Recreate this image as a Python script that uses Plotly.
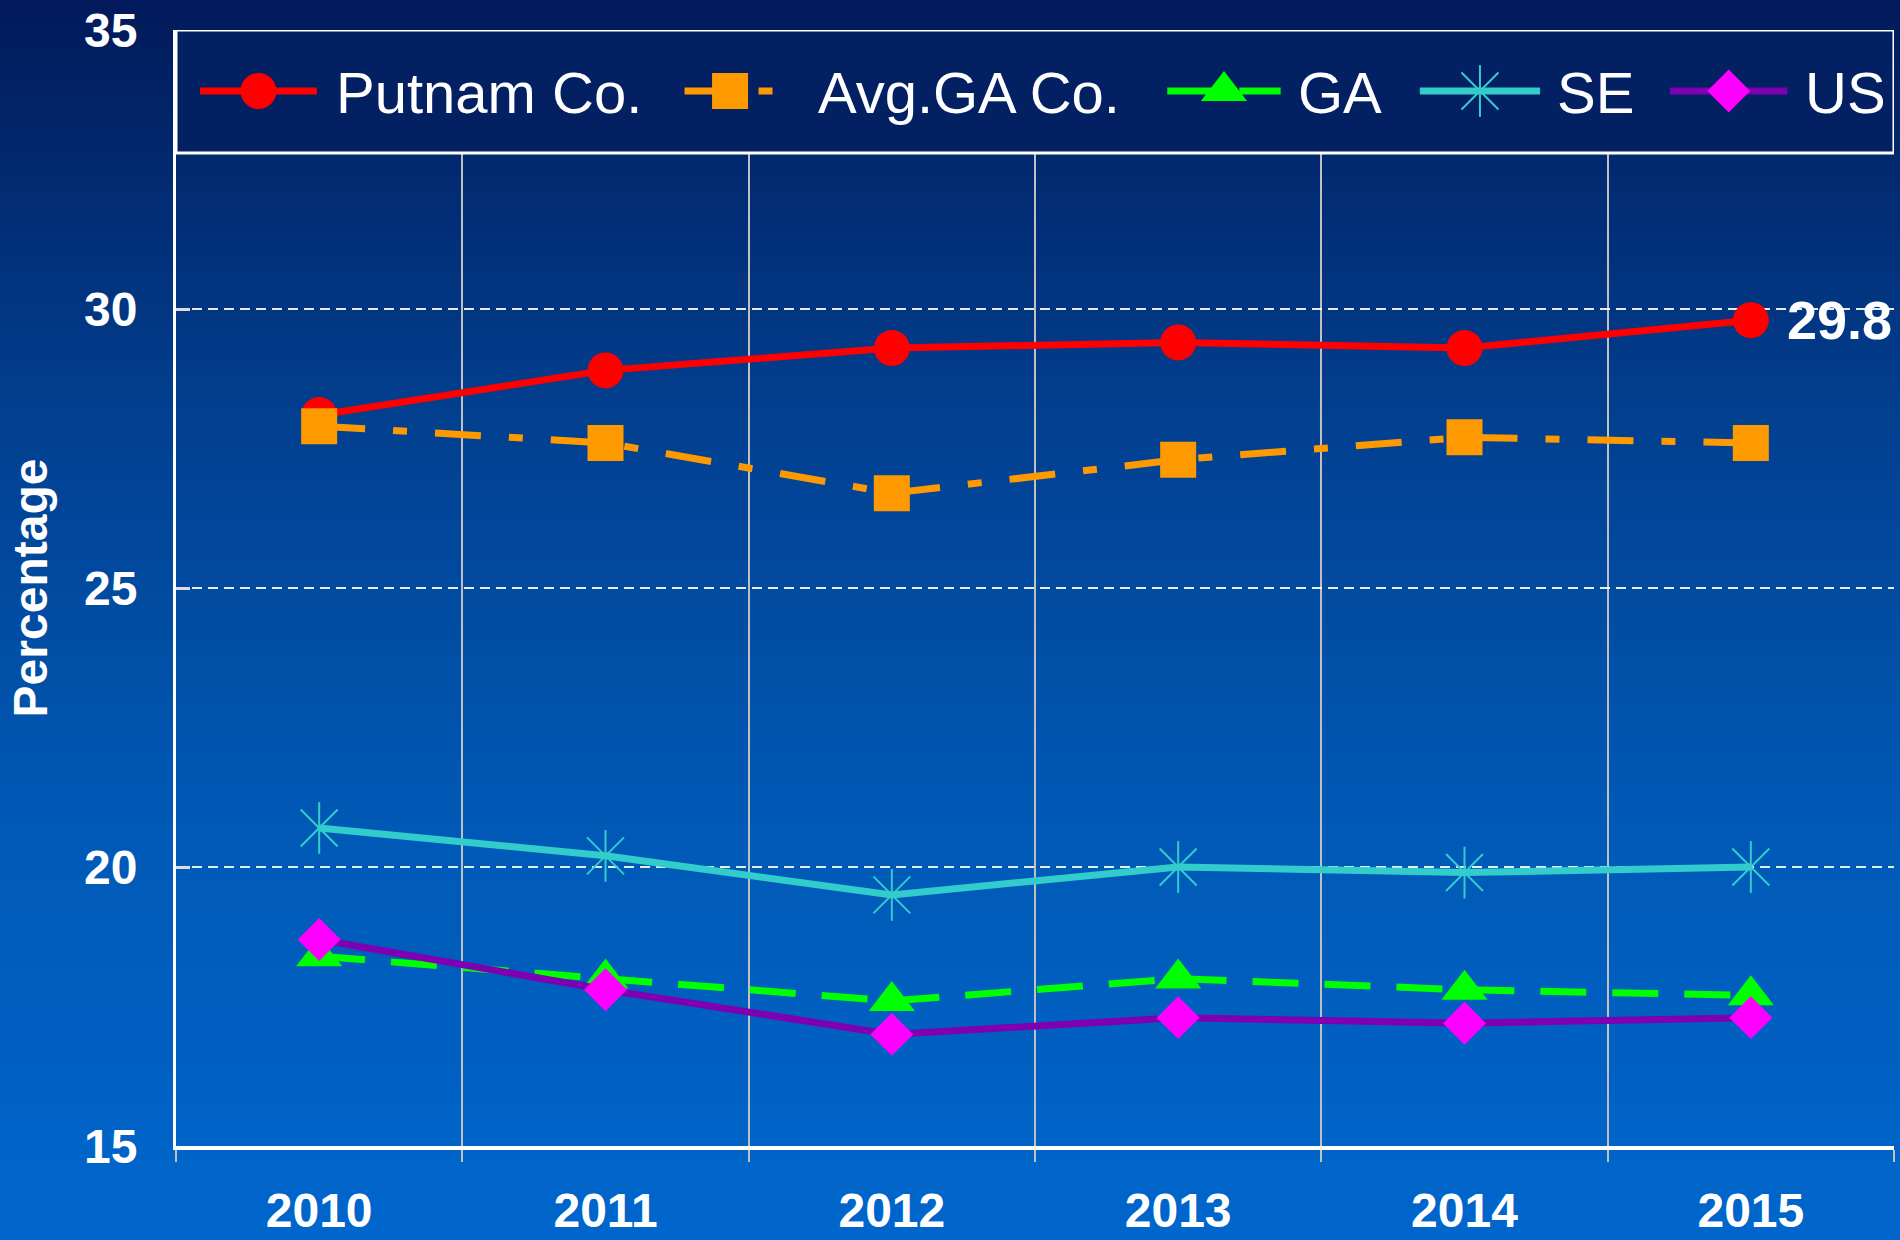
import plotly.graph_objects as go

# ---------------- data ----------------
years = ["2010", "2011", "2012", "2013", "2014", "2015"]
putnam = [28.1, 28.9, 29.3, 29.4, 29.3, 29.8]
avg_ga = [27.9, 27.6, 26.7, 27.3, 27.7, 27.6]
ga = [18.4, 18.0, 17.6, 18.0, 17.8, 17.7]
se = [20.7, 20.2, 19.5, 20.0, 19.9, 20.0]
us = [18.7, 17.8, 17.0, 17.3, 17.2, 17.3]
series_names = ["Putnam Co.", "Avg.GA Co.", "GA", "SE", "US"]
y_ticks = [15, 20, 25, 30, 35]
y_title = "Percentage"

# ---------------- styling ----------------
W, H = 1900, 1240
ML, MR, MT, MB = 176, 6, 30, 94
PW, PH = W - ML - MR, H - MT - MB
BOLD = dict(family="Liberation Sans, Arial, sans-serif", size=48, color="white", weight="bold")
LABEL = dict(BOLD, size=54)
LEGFONT = dict(family="Liberation Sans Narrow, Arial Narrow, Liberation Sans, sans-serif", size=58, color="white")

RED, ORANGE, GREEN, CYAN, PURPLE, MAGENTA = "#ff0000", "#ff9900", "#00ff00", "#33cccc", "#7f00b2", "#ff00ff"

styles = [
    dict(line=dict(color=RED, width=7), marker=dict(symbol="circle", size=36, color=RED)),
    dict(line=dict(color=ORANGE, width=7, dash="46px,28px,14px,28px"),
         marker=dict(symbol="square", size=36, color=ORANGE)),
    dict(line=dict(color=GREEN, width=7, dash="46px,26px"),
         marker=dict(symbol="triangle-up", size=40, color=GREEN)),
    dict(line=dict(color=CYAN, width=7),
         marker=dict(symbol="x-thin-open", size=37, color=CYAN, line=dict(color=CYAN, width=2))),
    dict(line=dict(color=PURPLE, width=7), marker=dict(symbol="diamond", size=33, color=MAGENTA)),
]
values = [putnam, avg_ga, ga, se, us]
SE_VBAR = dict(symbol="line-ns-open", size=37, color=CYAN, line=dict(color=CYAN, width=2))

fig = go.Figure()

# background gradient (bands in paper coordinates)
stops = [(0, (2, 26, 90)), (400, (2, 62, 142)), (800, (0, 88, 180)), (1240, (0, 102, 204))]


def grad(p):
    for (p0, c0), (p1, c1) in zip(stops[:-1], stops[1:]):
        if p0 <= p <= p1:
            t = (p - p0) / (p1 - p0)
            return tuple(round(a + (b - a) * t) for a, b in zip(c0, c1))
    return stops[-1][1]


shapes = []
band = 10
for top in range(-band, H + band, band):
    c = grad(min(max(top + band / 2, 0), H))
    shapes.append(dict(
        type="rect", xref="paper", yref="paper", layer="below",
        x0=-ML / PW - 0.01, x1=1 + MR / PW + 0.01,
        y0=(H - MB - (top + band + 1)) / PH, y1=(H - MB - top) / PH,
        fillcolor="rgb(%d,%d,%d)" % c, line=dict(width=0),
    ))

# legend box (between gridlines and traces, so it hides the gridlines)
Y_MIN, Y_MAX = y_ticks[0], y_ticks[-1]
leg_box_bottom = Y_MAX - 123 / PH * (Y_MAX - Y_MIN)
shapes.append(dict(
    type="rect", xref="x", yref="y", layer="between",
    x0=-0.5, x1=len(years) - 0.5, y0=leg_box_bottom, y1=Y_MAX,
    fillcolor="rgb(2,32,98)", line=dict(color="white", width=3),
))

# data traces
for name, vals, st in zip(series_names, values, styles):
    fig.add_trace(go.Scatter(x=years, y=vals, name=name, mode="lines+markers",
                             line=st["line"], marker=st["marker"], showlegend=False))
    if name == "SE":
        fig.add_trace(go.Scatter(x=years, y=vals, mode="markers", showlegend=False,
                                 marker=SE_VBAR, hoverinfo="skip"))

# custom legend (drawn on overlay axes with 0..1 ranges)
leg_y = 1 - 61 / PH
leg_items = [  # line start, line end, text start (fractions of plot width)
    (0.014, 0.082, 0.0917),
    (0.296, 0.349, 0.3724),
    (0.577, 0.643, 0.652),
    (0.724, 0.794, 0.8026),
    (0.8696, 0.938, 0.947),
]
annotations = []
for name, st, (a, b, tx) in zip(series_names, styles, leg_items):
    fig.add_trace(go.Scatter(x=[a, b], y=[leg_y, leg_y], xaxis="x2", yaxis="y2",
                             mode="lines", line=st["line"], showlegend=False, hoverinfo="skip"))
    fig.add_trace(go.Scatter(x=[(a + b) / 2], y=[leg_y], xaxis="x2", yaxis="y2",
                             mode="markers", marker=st["marker"], showlegend=False, hoverinfo="skip"))
    if name == "SE":
        fig.add_trace(go.Scatter(x=[(a + b) / 2], y=[leg_y], xaxis="x2", yaxis="y2",
                                 mode="markers", showlegend=False, hoverinfo="skip", marker=SE_VBAR))
    annotations.append(dict(xref="x2", yref="y2", x=tx, y=leg_y, text=name, showarrow=False,
                            xanchor="left", yanchor="middle", yshift=-1, font=LEGFONT))

# end label (category axis: position given by the category's index)
annotations.append(dict(xref="x", yref="y", x=len(years) - 1, y=putnam[-1], text=f"{putnam[-1]}",
                        showarrow=False, xanchor="left", yanchor="middle", xshift=34, font=LABEL))

fig.update_layout(
    width=W, height=H,
    margin=dict(l=ML, r=MR, t=MT, b=MB, autoexpand=False),
    paper_bgcolor="rgb(0,96,194)",
    plot_bgcolor="rgba(0,0,0,0)",
    showlegend=False,
    shapes=shapes,
    annotations=annotations,
    xaxis=dict(
        type="category", range=[-0.5, len(years) - 0.5], tickson="boundaries",
        showgrid=True, gridcolor="#c0c0c0", gridwidth=2,
        showline=True, linecolor="white", linewidth=4,
        ticks="outside", ticklen=12, tickwidth=2, tickcolor="#c0c0c0",
        tickfont=BOLD, ticklabelstandoff=19, zeroline=False, fixedrange=True,
        automargin=False,
    ),
    yaxis=dict(
        range=[Y_MIN, Y_MAX], tickvals=y_ticks, ticktext=[str(v) for v in y_ticks],
        showgrid=True, gridcolor="rgba(255,255,255,0.9)", gridwidth=1.5, griddash="10px,6px",
        showline=True, linecolor="white", linewidth=3,
        ticks="inside", ticklen=14, tickwidth=3, tickcolor="#dddddd",
        tickfont=BOLD, ticklabelstandoff=26, zeroline=False, fixedrange=True,
        title=dict(text=y_title, font=BOLD, standoff=22), automargin=False,
    ),
    xaxis2=dict(overlaying="x", range=[0, 1], visible=False, fixedrange=True),
    yaxis2=dict(overlaying="y", range=[0, 1], visible=False, fixedrange=True),
)

fig.write_html("out.html", config={"displayModeBar": False},
               post_script="document.body.style.margin='0';document.body.style.overflow='hidden';")
